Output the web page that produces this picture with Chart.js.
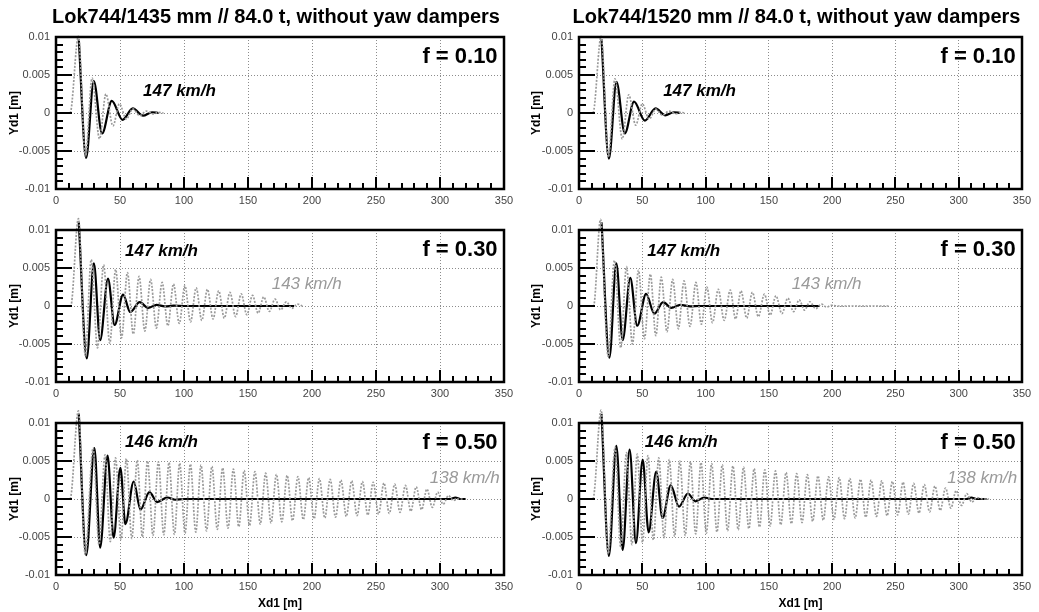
<!DOCTYPE html>
<html>
<head>
<meta charset="utf-8">
<script src="https://cdn.jsdelivr.net/npm/chart.js@4.4.0/dist/chart.umd.min.js"></script>
<style>
  body { margin: 0; background: #fff; width: 1039px; height: 612px; overflow: hidden; position: relative; }
  canvas { position: absolute; }
</style>
</head>
<body>
<script>
const FONT = '"Liberation Sans", Arial, sans-serif';

const titles = ["Lok744/1435 mm // 84.0 t, without yaw dampers", "Lok744/1520 mm // 84.0 t, without yaw dampers"];
const frictions = ["f = 0.10", "f = 0.30", "f = 0.50"];
const xTicks = [0, 50, 100, 150, 200, 250, 300, 350];
const yTicks = [-0.01, -0.005, 0, 0.005, 0.01];

// curve turning points, Xd1 [m] / Yd1 [m]
// left column, 1435 mm
const l1GrayX = [0, 11, 17.5, 23, 28.2, 34, 39, 44.5, 49.5, 55, 60, 65.5, 70.5, 76, 80, 84];
const l1GrayY = [0, 0, 0.0101, -0.0057, 0.0046, -0.0034, 0.0025, -0.0017, 0.0012, -0.0008, 0.00055, -0.00035, 0.00025, -0.00012, 0.00008, 0];
const l1BlackX = [17.8, 23.5, 29.5, 36, 43.6, 52, 60, 68, 75, 80];
const l1BlackY = [0.0097, -0.0059, 0.0042, -0.0027, 0.0016, -0.0009, 0.0006, -0.00035, 0.0001, 0];

const l2GrayX = [0, 11.5, 17.5, 22.9, 27.5, 32.4, 37.2, 42, 46.6, 51.2, 55.8, 60.4, 64.9, 69.4, 73.9, 78.4,
  82.9, 87.4, 91.8, 96.3, 100.7, 105.1, 109.5, 113.9, 118.3, 122.7, 127.1, 131.5, 135.9, 140.3, 144.7,
  149.1, 153.5, 157.9, 162.3, 166.7, 171.1, 175.5, 179.9, 184.3, 188.6, 192.5];
const l2GrayY = [0, 0, 0.0115, -0.0065, 0.0061, -0.0055, 0.0054, -0.0049, 0.0048, -0.0042, 0.0044, -0.0037, 0.0039, -0.0033, 0.0035, -0.0029,
  0.0031, -0.0026, 0.0029, -0.0023, 0.0027, -0.0021, 0.0024, -0.0019, 0.0022, -0.0017, 0.002, -0.0016, 0.0018, -0.0014, 0.0016,
  -0.00115, 0.0014, -0.00095, 0.0012, -0.00072, 0.0009, -0.0005, 0.00055, -0.0003, 0.00025, 0];
const l2BlackX = [17.8, 24, 29.6, 34.5, 40.6, 45.8, 52.4, 58, 65.4, 72, 78.5, 85, 92, 100, 186];
const l2BlackY = [0.011, -0.0069, 0.0056, -0.0045, 0.0036, -0.0025, 0.0015, -0.0008, 0.0005, -0.00025, 0.00015, -0.00005, 0.00004, 0, 0];

const l3GrayX = [0, 11, 17.5,
  22.8, 29, 33.6, 38.3, 42.4, 46.5, 50.8, 55, 59.2, 63.5,
  67.5, 71.5, 75.8, 80, 84.2, 88.3, 92.5, 96.6, 100.8, 105,
  109.2, 113.3, 117.6, 121.8, 126, 130.2, 134.4, 138.6, 142.8, 147,
  151.2, 155.4, 159.6, 163.8, 168, 172.2, 176.4, 180.6, 184.8, 189,
  193.2, 197.4, 201.6, 205.8, 210, 214.2, 218.4, 222.6, 226.8, 231,
  235.2, 239.4, 243.6, 247.8, 252, 256.2, 260.4, 264.6, 268.8, 273,
  277.2, 281.4, 285.6, 289.8, 294, 298.2, 302.4, 306.6, 310.5,
  314, 318];
const l3GrayY = [0, 0, 0.0116,
  -0.0073, 0.0067, -0.006, 0.0058, -0.0056, 0.0054, -0.0053, 0.0053, -0.0052, 0.0051,
  -0.005, 0.005, -0.0048, 0.0049, -0.0047, 0.0048, -0.00465, 0.0047, -0.0045, 0.0046,
  -0.00435, 0.00445, -0.0042, 0.0043, -0.004, 0.0041, -0.00385, 0.00395, -0.00365, 0.00375,
  -0.0035, 0.0036, -0.0033, 0.0034, -0.00315, 0.00325, -0.003, 0.0031, -0.00285, 0.00295,
  -0.0027, 0.0028, -0.0026, 0.0027, -0.0025, 0.0026, -0.0024, 0.0025, -0.0023, 0.0024,
  -0.0022, 0.0023, -0.0021, 0.0022, -0.002, 0.0021, -0.0019, 0.00195, -0.00175, 0.0018,
  -0.0016, 0.0016, -0.0014, 0.0013, -0.0011, 0.0009, -0.0007, 0.00045, -0.0002,
  0, 0];
const l3BlackX = [17.8, 23.6, 30, 34.5, 40.3, 45, 50.3, 54.2, 60.7, 66, 73, 79, 87, 93, 100, 308, 312, 316, 320];
const l3BlackY = [0.0112, -0.0074, 0.0067, -0.0064, 0.0057, -0.0051, 0.0041, -0.0033, 0.0023, -0.0014, 0.0009, -0.0004, 0.0002, -0.0001, 0, 0, 0.0002, 0, 0];

// right column, 1520 mm
const r1GrayX = [0, 11, 17.5, 23.2, 28.4, 34.2, 39.3, 44.8, 50, 55.4, 60.6, 66, 71, 76.5, 80.5, 84];
const r1GrayY = [0, 0, 0.0101, -0.0058, 0.0045, -0.0034, 0.0024, -0.0016, 0.0012, -0.0008, 0.0005, -0.0003, 0.00025, -0.0001, 0.00008, 0];
const r1BlackX = [17.8, 23.6, 29.6, 36.2, 43.5, 52, 60.5, 68, 75, 80];
const r1BlackY = [0.0097, -0.006, 0.0041, -0.0027, 0.0015, -0.001, 0.0006, -0.0003, 0.0001, 0];

const r2GrayX = [0, 11.5, 17, 23, 28, 33, 37.5, 42.2, 47, 51.7, 56.4, 60.7, 65, 69.5, 74, 78.5, 83, 87.7,
  92.4, 96.7, 101, 105.5, 110, 114.7, 119.5, 123.7, 128, 132.5, 137, 141.7, 146.5, 151, 155.6, 160.3,
  165, 169.5, 174, 178.2, 182.4, 187, 191.6, 195.5, 199.5, 204, 245];
const r2GrayY = [0, 0, 0.0114, -0.0066, 0.006, -0.0055, 0.0052, -0.005, 0.0047, -0.0043, 0.0042, -0.0039, 0.0038, -0.0034, 0.0035, -0.003, 0.0033, -0.0027,
  0.0031, -0.0024, 0.0025, -0.0022, 0.0022, -0.0019, 0.0021, -0.0017, 0.002, -0.0016, 0.0018, -0.0014, 0.00155, -0.0012, 0.00135, -0.001,
  0.00105, -0.00075, 0.0008, -0.00055, 0.00055, -0.00035, 0.00025, -0.00015, 0.0001, 0, 0];
const r2BlackX = [17.8, 24, 29.5, 34.5, 40.5, 46, 53, 59.5, 66.5, 73, 80, 88, 95, 190];
const r2BlackY = [0.011, -0.0068, 0.0056, -0.0045, 0.0037, -0.0026, 0.0016, -0.001, 0.0005, -0.00025, 0.00015, -0.00005, 0, 0];

const r3GrayX = [0, 11, 17.5,
  23, 28.5, 33, 37.5, 41.8, 46, 50.2, 54.5, 58.8, 63,
  67.2, 71.3, 75.5, 79.7, 83.9, 88, 92.2, 96.4, 100.6, 104.8,
  109, 113.2, 117.4, 121.6, 125.8, 130, 134.2, 138.4, 142.6, 146.8,
  151, 155.2, 159.4, 163.6, 167.8, 172, 176.2, 180.4, 184.6, 188.8,
  193, 197.2, 201.4, 205.6, 209.8, 214, 218.2, 222.4, 226.6, 230.8,
  235, 239.2, 243.4, 247.6, 251.8, 256, 260.2, 264.4, 268.6, 272.8,
  277, 281.2, 285.4, 289.6, 293.8, 298, 302.2, 306.4, 310.4, 314.5,
  319, 324];
const r3GrayY = [0, 0, 0.0117,
  -0.0072, 0.0068, -0.0064, 0.0061, -0.006, 0.0059, -0.0057, 0.0057, -0.0054, 0.0054,
  -0.0051, 0.0052, -0.0049, 0.005, -0.0048, 0.0049, -0.0046, 0.0048, -0.0045, 0.00465,
  -0.00435, 0.0045, -0.0042, 0.00435, -0.00405, 0.0042, -0.0039, 0.004, -0.0037, 0.00385,
  -0.00355, 0.0037, -0.0034, 0.0035, -0.00325, 0.00335, -0.0031, 0.0032, -0.00295, 0.00305,
  -0.0028, 0.0029, -0.0027, 0.0028, -0.0026, 0.0027, -0.0025, 0.0026, -0.0024, 0.0025,
  -0.0023, 0.0024, -0.0022, 0.0023, -0.0021, 0.0022, -0.002, 0.00205, -0.00185, 0.0019,
  -0.0017, 0.0017, -0.0015, 0.00145, -0.0012, 0.0011, -0.00085, 0.0007, -0.0004, 0.0002,
  0, 0];
const r3BlackX = [17.8, 23.6, 29.5, 34.5, 40, 45, 50.3, 55, 61, 66, 72.5, 79, 86, 92, 99, 105, 306, 310, 314, 322];
const r3BlackY = [0.0112, -0.0075, 0.007, -0.0067, 0.0065, -0.0058, 0.0052, -0.0044, 0.0036, -0.0025, 0.0018, -0.001, 0.0007, -0.0003, 0.0002, 0, 0, 0.0002, 0, 0];

const panels = [
  { col: 0, row: 0, gx: l1GrayX, gy: l1GrayY, bx: l1BlackX, by: l1BlackY,
    speeds: [{ text: "147 km/h", x: 68, y: 0.0029, dark: true }] },
  { col: 0, row: 1, gx: l2GrayX, gy: l2GrayY, bx: l2BlackX, by: l2BlackY,
    speeds: [{ text: "147 km/h", x: 54, y: 0.0072, dark: true }, { text: "143 km/h", x: 168.5, y: 0.0029 }] },
  { col: 0, row: 2, gx: l3GrayX, gy: l3GrayY, bx: l3BlackX, by: l3BlackY,
    speeds: [{ text: "146 km/h", x: 54, y: 0.0075, dark: true }, { text: "138 km/h", x: 292, y: 0.0027 }] },
  { col: 1, row: 0, gx: r1GrayX, gy: r1GrayY, bx: r1BlackX, by: r1BlackY,
    speeds: [{ text: "147 km/h", x: 66.5, y: 0.0029, dark: true }] },
  { col: 1, row: 1, gx: r2GrayX, gy: r2GrayY, bx: r2BlackX, by: r2BlackY,
    speeds: [{ text: "147 km/h", x: 54, y: 0.0072, dark: true }, { text: "143 km/h", x: 168, y: 0.0029 }] },
  { col: 1, row: 2, gx: r3GrayX, gy: r3GrayY, bx: r3BlackX, by: r3BlackY,
    speeds: [{ text: "146 km/h", x: 52, y: 0.0075, dark: true }, { text: "138 km/h", x: 291, y: 0.0027 }] },
];

function pts(xs, ys) {
  return xs.map((x, i) => ({ x: x, y: ys[i] }));
}

// thick frame plus the inward tick marks of the original plots
const framePlugin = {
  id: "frame",
  afterDatasetsDraw(chart) {
    const { ctx, chartArea: a, scales } = chart;
    const x = scales.x, y = scales.y;
    ctx.save();
    ctx.strokeStyle = "#000";
    ctx.lineWidth = 2;
    ctx.beginPath();
    for (let v = 10; v < 350; v += 10) {
      const px = Math.round(x.getPixelForValue(v));
      const len = v % 50 === 0 ? 12 : 6;
      ctx.moveTo(px, a.bottom);
      ctx.lineTo(px, a.bottom - len);
    }
    for (let k = -9; k <= 9; k++) {
      const py = Math.round(y.getPixelForValue(k / 1000));
      const len = k % 5 === 0 ? 16 : 7;
      ctx.moveTo(a.left, py);
      ctx.lineTo(a.left + len, py);
    }
    ctx.stroke();
    ctx.lineWidth = 2.5;
    ctx.strokeRect(a.left, a.top, a.right - a.left, a.bottom - a.top);
    ctx.restore();
  },
};

const notesPlugin = {
  id: "notes",
  afterDraw(chart, args, opts) {
    const { ctx, chartArea: a, scales } = chart;
    const x = scales.x, y = scales.y;
    ctx.save();
    ctx.textBaseline = "middle";
    ctx.fillStyle = "#000";
    if (opts.title) {
      ctx.font = "bold 20px " + FONT;
      ctx.textAlign = "center";
      ctx.fillText(opts.title, (a.left + a.right) / 2 - 4, 17);
    }
    ctx.font = "bold 22px " + FONT;
    ctx.textAlign = "right";
    ctx.fillText(opts.friction, x.getPixelForValue(345), y.getPixelForValue(0.0074));
    ctx.textAlign = "left";
    for (const s of opts.speeds) {
      ctx.font = (s.dark ? "italic bold 17px " : "italic 17px ") + FONT;
      ctx.fillStyle = s.dark ? "#000" : "#9a9a9a";
      ctx.fillText(s.text, x.getPixelForValue(s.x), y.getPixelForValue(s.y));
    }
    ctx.restore();
  },
};

for (const p of panels) {
  const W = 519;
  const yAxisW = p.col === 0 ? 56 : 59;
  const padRight = p.col === 0 ? 15 : 17;
  const xAxisH = p.row === 2 ? 37 : 18;
  const H = 37 + 152 + xAxisH;

  const canvas = document.createElement("canvas");
  canvas.width = W;
  canvas.height = H;
  canvas.style.left = (p.col * 520) + "px";
  canvas.style.top = (p.row * 193) + "px";
  canvas.style.width = W + "px";
  canvas.style.height = H + "px";
  document.body.appendChild(canvas);

  new Chart(canvas, {
    type: "line",
    data: {
      datasets: [
        {
          label: "gray",
          data: pts(p.gx, p.gy),
          borderColor: "#9a9a9a",
          borderWidth: 1.7,
          borderDash: [2, 1.5],
          pointRadius: 0,
          cubicInterpolationMode: "monotone",
          clip: false,
        },
        {
          label: "black",
          data: pts(p.bx, p.by),
          borderColor: "#000",
          borderWidth: 2.2,
          pointRadius: 0,
          cubicInterpolationMode: "monotone",
          clip: false,
        },
      ],
    },
    options: {
      responsive: false,
      animation: false,
      events: [],
      layout: { padding: { top: 37, right: padRight, left: 0, bottom: 0 } },
      scales: {
        x: {
          type: "linear",
          min: 0,
          max: 350,
          afterBuildTicks(scale) {
            scale.ticks = xTicks.map((v) => ({ value: v }));
          },
          afterFit(scale) {
            scale.height = xAxisH;
          },
          grid: { color: "#8c8c8c", lineWidth: 1, drawTicks: false },
          border: { display: false, dash: [1, 2] },
          ticks: { padding: 5, color: "#444", maxRotation: 0, font: { family: FONT, size: 11 } },
          title: {
            display: p.row === 2,
            text: "Xd1 [m]",
            color: "#000",
            font: { family: FONT, size: 12, weight: "bold" },
            padding: { top: 0, bottom: 1 },
          },
        },
        y: {
          type: "linear",
          min: -0.01,
          max: 0.01,
          afterBuildTicks(scale) {
            scale.ticks = yTicks.map((v) => ({ value: v }));
          },
          afterFit(scale) {
            scale.width = yAxisW;
          },
          grid: { color: "#8c8c8c", lineWidth: 1, drawTicks: false },
          border: { display: false, dash: [1, 2] },
          ticks: {
            padding: 6,
            color: "#444",
            font: { family: FONT, size: 11 },
            callback: (v) => String(Number(Number(v).toFixed(3))),
          },
          title: {
            display: true,
            text: "Yd1 [m]",
            color: "#000",
            font: { family: FONT, size: 12, weight: "bold" },
            padding: { top: p.col === 0 ? 7 : 9, bottom: 0 },
          },
        },
      },
      plugins: {
        legend: { display: false },
        tooltip: { enabled: false },
        notes: {
          title: p.row === 0 ? titles[p.col] : null,
          friction: frictions[p.row],
          speeds: p.speeds,
        },
      },
    },
    plugins: [framePlugin, notesPlugin],
  });
}
</script>
</body>
</html>
